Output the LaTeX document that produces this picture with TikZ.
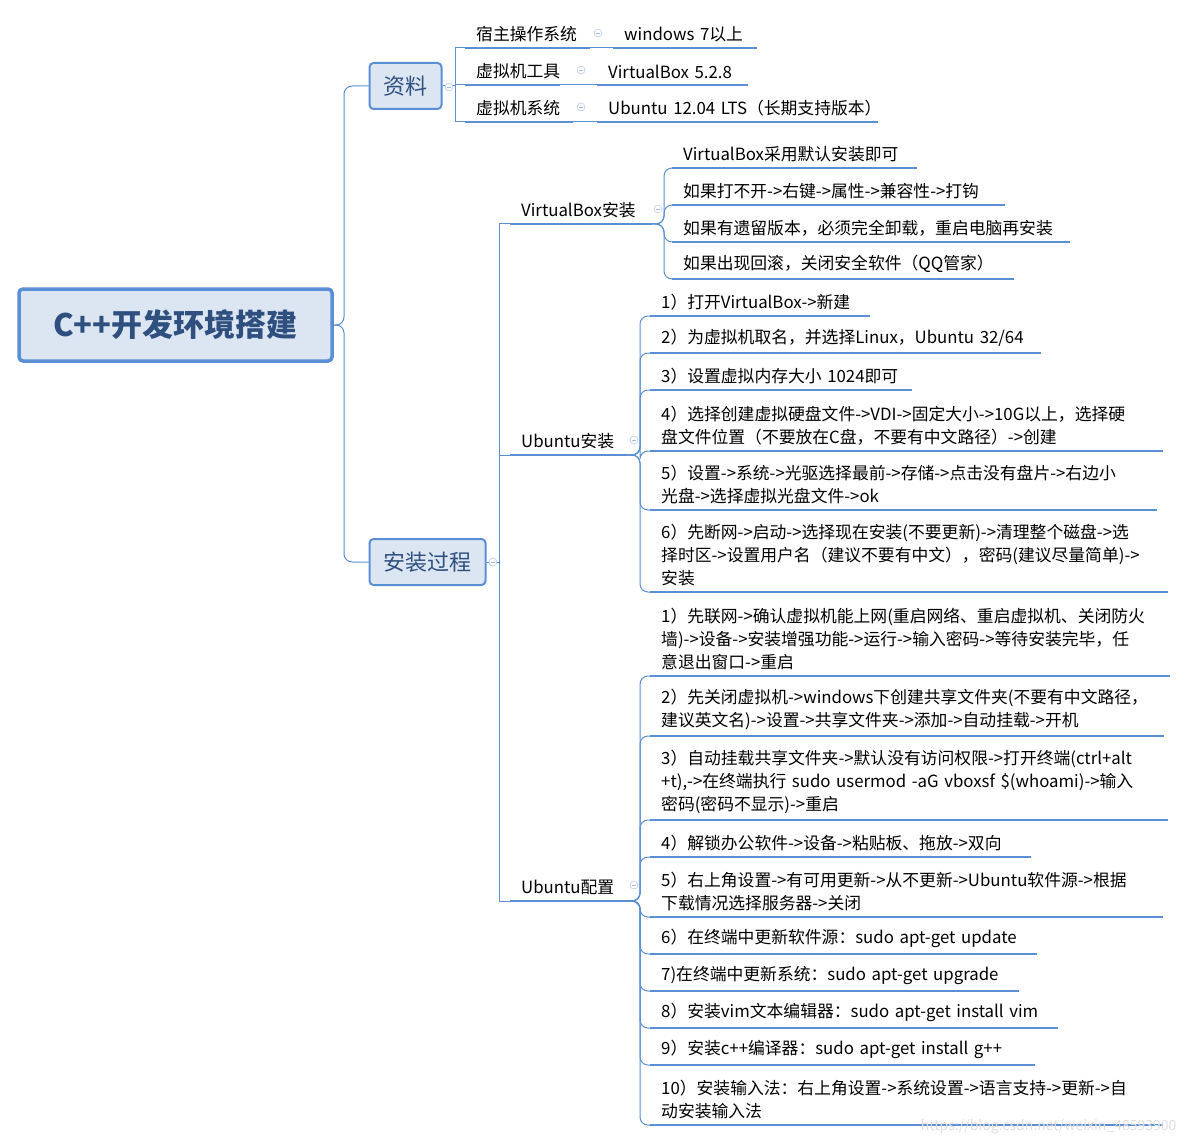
\documentclass[tikz,border=0pt]{standalone}
\usepackage{fontspec}
\setmainfont{Noto Sans CJK SC}
\usetikzlibrary{positioning, calc}
\definecolor{lineblue}{HTML}{5B8FD5}
\definecolor{boxfill}{HTML}{DCE6F2}
\definecolor{roottext}{HTML}{2F4F7F}
\newcommand\nl{\\\hspace*{11pt}}
\newcommand\leaf[5]{%
  \node[leaf, minimum width=#4, text width=#4] (#1) at (#2,#3) {\hspace*{11pt}#5};
  \draw[uline] (#1.south west) -- (#1.south east);}
\begin{document}
\begin{tikzpicture}[x=1pt, y=-1pt,
    leaf/.style={anchor=south west, inner xsep=0pt, inner ysep=6pt, align=left,
      font=\fontsize{16.8}{23}\selectfont},
    uline/.style={draw=lineblue, line width=2.2pt},
    topic/.style={draw=lineblue, line width=2pt, rounded corners=4pt, fill=boxfill,
      text=roottext, align=center},
    link/.style={draw=lineblue, line width=1pt, rounded corners=8pt},
    fold/.style={circle, draw=lineblue!60, fill=white, inner sep=0pt, minimum size=8pt,
      path picture={\draw[lineblue!60] ($(path picture bounding box.west)+(2pt,0)$) -- ($(path picture bounding box.east)+(-2pt,0)$);}}
]
\useasboundingbox (0,0) rectangle (1189,1142);

% main topics
\node[topic, line width=3.5pt, minimum width=313, minimum height=72, font=\fontsize{31}{33}\selectfont\bfseries] (root) at (175.5,325) {C++开发环境搭建};
\node[topic, minimum width=72, minimum height=46, font=\fontsize{22}{24}\selectfont] (ziliao) at (405.5,86) {资料};
\node[topic, minimum width=116, minimum height=46, font=\fontsize{22}{24}\selectfont] (guocheng) at (427.5,562) {安装过程};

\draw[link] (root.east) -- (344,325) |- (ziliao.west);
\draw[link] (root.east) -- (344,325) |- (guocheng.west);

% 资料
\leaf{host}{465}{48}{125}{宿主操作系统}
\leaf{hostv}{613}{48}{144}{windows~7以上}
\leaf{tool}{465}{85}{95}{虚拟机工具}
\leaf{toolv}{597}{85}{151}{VirtualBox~5.2.8}
\leaf{sys}{465}{122}{108}{虚拟机系统}
\leaf{sysv}{597}{122}{281}{Ubuntu~12.04~LTS（长期支持版本）}
\foreach \c in {host,tool,sys}
  \draw[link, rounded corners=0pt] (ziliao.east) -- (455,86) |- (\c.south west);
\draw[lineblue, line width=1pt] (host.south east) -- (hostv.south west);
\draw[lineblue, line width=1pt] (tool.south east) -- (toolv.south west);
\draw[lineblue, line width=1pt] (sys.south east) -- (sysv.south west);

% 安装过程
\leaf{vbox}{510}{224}{142}{VirtualBox安装}
\leaf{uinst}{510}{455}{117}{Ubuntu安装}
\leaf{ucfg}{510}{901}{117}{Ubuntu配置}
\foreach \c in {vbox,uinst,ucfg}
  \draw[link, rounded corners=0pt] (guocheng.east) -- (499,562) |- (\c.south west);

% VirtualBox安装
\leaf{vb1}{672}{168}{245}{VirtualBox采用默认安装即可}
\leaf{vb2}{672}{205}{333}{如果打不开->右键->属性->兼容性->打钩}
\leaf{vb3}{672}{242}{398}{如果有遗留版本，必须完全卸载，重启电脑再安装}
\leaf{vb4}{672}{279}{342}{如果出现回滚，关闭安全软件（QQ管家）}
\foreach \c in {vb1,vb2,vb3,vb4}
  \draw[link] (vbox.south east) -- (664,224) |- (\c.south west);

% Ubuntu安装
\leaf{ui1}{650}{316}{220}{1）打开VirtualBox->新建}
\leaf{ui2}{650}{353}{391}{2）为虚拟机取名，并选择Linux，Ubuntu~32/64}
\leaf{ui3}{650}{390}{262}{3）设置虚拟内存大小~1024即可}
\leaf{ui4}{650}{451}{513}{4）选择创建虚拟硬盘文件->VDI->固定大小->10G以上，选择硬\nl 盘文件位置（不要放在C盘，不要有中文路径）->创建}
\leaf{ui5}{650}{510}{507}{5）设置->系统->光驱选择最前->存储->点击没有盘片->右边小\nl 光盘->选择虚拟光盘文件->ok}
\leaf{ui6}{650}{592}{518}{6）先断网->启动->选择现在安装(不要更新)->清理整个磁盘->选\nl 择时区->设置用户名（建议不要有中文），密码(建议尽量简单)->\nl 安装}
\foreach \c in {ui1,ui2,ui3,ui4,ui5,ui6}
  \draw[link] (uinst.south east) -- (640,455) |- (\c.south west);

% Ubuntu配置
\leaf{uc1}{650}{676}{520}{1）先联网->确认虚拟机能上网(重启网络、重启虚拟机、关闭防火\nl 墙)->设备->安装增强功能->运行->输入密码->等待安装完毕，任\nl 意退出窗口->重启}
\leaf{uc2}{650}{736}{514}{2）先关闭虚拟机->windows下创建共享文件夹(不要有中文路径，\nl 建议英文名)->设置->共享文件夹->添加->自动挂载->开机}
\leaf{uc3}{650}{820}{518}{3）自动挂载共享文件夹->默认没有访问权限->打开终端(ctrl+alt\nl +t),->在终端执行~sudo~usermod~-aG~vboxsf~\$(whoami)->输入\nl 密码(密码不显示)->重启}
\leaf{uc4}{650}{857}{381}{4）解锁办公软件->设备->粘贴板、拖放->双向}
\leaf{uc5}{650}{917}{513}{5）右上角设置->有可用更新->从不更新->Ubuntu软件源->根据\nl 下载情况选择服务器->关闭}
\leaf{uc6}{650}{954}{387}{6）在终端中更新软件源：sudo~apt-get~update}
\leaf{uc7}{650}{991}{369}{7)在终端中更新系统：sudo~apt-get~upgrade}
\leaf{uc8}{650}{1028}{408}{8）安装vim文本编辑器：sudo~apt-get~install~vim}
\leaf{uc9}{650}{1065}{385}{9）安装c++编译器：sudo~apt-get~install~g++}
\leaf{uc10}{650}{1125}{513}{10）安装输入法：右上角设置->系统设置->语言支持->更新->自\nl 动安装输入法}
\foreach \c in {uc1,uc2,uc3,uc4,uc5,uc6,uc7,uc8,uc9,uc10}
  \draw[link] (ucfg.south east) -- (640,901) |- (\c.south west);

% fold markers
\foreach \p/\n in {{598,33}/f1,{581,70}/f2,{581,107}/f3,{449,87}/f4,{658,209}/f5,{634,440}/f6,{634,885}/f7,{493,562}/f8}
  \node[fold] (\n) at (\p) {};

\node[anchor=south east, text=gray!25, font=\fontsize{14}{16}\selectfont] (mark) at (1180,1138) {https://blog.csdn.net/weixin\_48593900};
\end{tikzpicture}
\end{document}
